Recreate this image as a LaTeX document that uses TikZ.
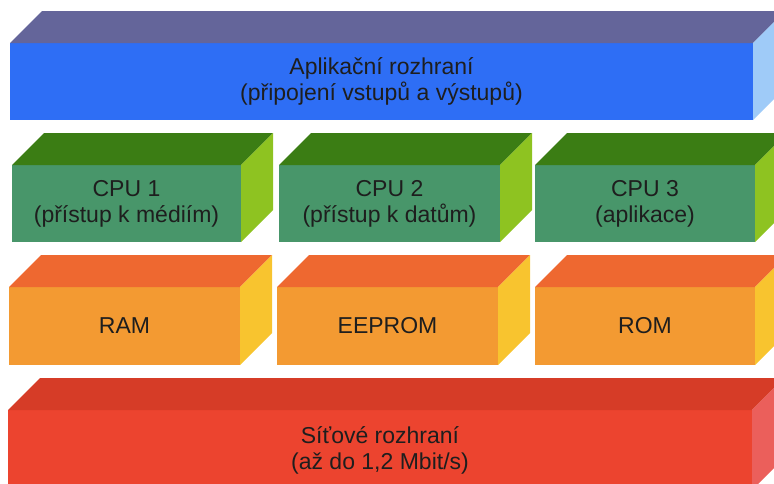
\documentclass[tikz,border=0pt]{standalone}
\usepackage{fontspec}
\setmainfont{Liberation Sans}
\usepackage{tikz}
\usetikzlibrary{calc}
\definecolor{apifront}{HTML}{2E6EF5}
\definecolor{apitop}{HTML}{64659A}
\definecolor{apiside}{HTML}{9FCBF8}
\definecolor{cpufront}{HTML}{48966A}
\definecolor{cputop}{HTML}{3B7D14}
\definecolor{cpuside}{HTML}{8EC321}
\definecolor{memfront}{HTML}{F39A32}
\definecolor{memtop}{HTML}{EE6830}
\definecolor{memside}{HTML}{F8C42F}
\definecolor{netfront}{HTML}{EC442F}
\definecolor{nettop}{HTML}{D63C27}
\definecolor{netside}{HTML}{EB5F5B}
\definecolor{ink}{HTML}{1E1E1E}

\begin{document}
\begin{tikzpicture}[
  x=1pt, y=1pt,
  font=\fontsize{23}{26}\selectfont,
  face/.style={inner sep=0pt, outer sep=0pt, align=center, text=ink},
  slab/.style={face, minimum height=77pt}
]
\useasboundingbox (0,0) rectangle (774,-483);
\clip (0,0) rectangle (774,-483);

% Front faces
\node[slab, fill=apifront, minimum width=743pt] (api) at (381.5,-81.5)
  {Aplikační rozhraní\\(připojení vstupů a výstupů)};

\node[slab, fill=cpufront, minimum width=229pt] (cpuA) at (126.5,-203.5) {CPU 1\\(přístup k médiím)};
\node[slab, fill=cpufront, minimum width=221pt] (cpuB) at (389.5,-203.5) {CPU 2\\(přístup k datům)};
\node[slab, fill=cpufront, minimum width=220pt] (cpuC) at (645,-203.5) {CPU 3\\(aplikace)};

\node[slab, fill=memfront, minimum width=231pt, minimum height=78pt] (ram)    at (124.5,-326) {RAM};
\node[slab, fill=memfront, minimum width=221pt, minimum height=78pt] (eeprom) at (387.5,-326) {EEPROM};
\node[slab, fill=memfront, minimum width=220pt, minimum height=78pt] (rom)    at (645,-326)   {ROM};

\node[slab, fill=netfront, minimum width=744pt, minimum height=80pt] (net) at (380,-450)
  {Síťové rozhraní\\(až do 1,2 Mbit/s)};

% Top and side faces
\foreach \n/\t/\s in {api/apitop/apiside, cpuA/cputop/cpuside, cpuB/cputop/cpuside, cpuC/cputop/cpuside,
                      ram/memtop/memside, eeprom/memtop/memside, rom/memtop/memside, net/nettop/netside}{
  \fill[\t] (\n.north west) -- ++(32,32) -- ($(\n.north east)+(32,32)$) -- (\n.north east) -- cycle;
  \fill[\s] (\n.north east) -- ++(32,32) -- ($(\n.south east)+(32,32)$) -- (\n.south east) -- cycle;
}
\end{tikzpicture}
\end{document}
